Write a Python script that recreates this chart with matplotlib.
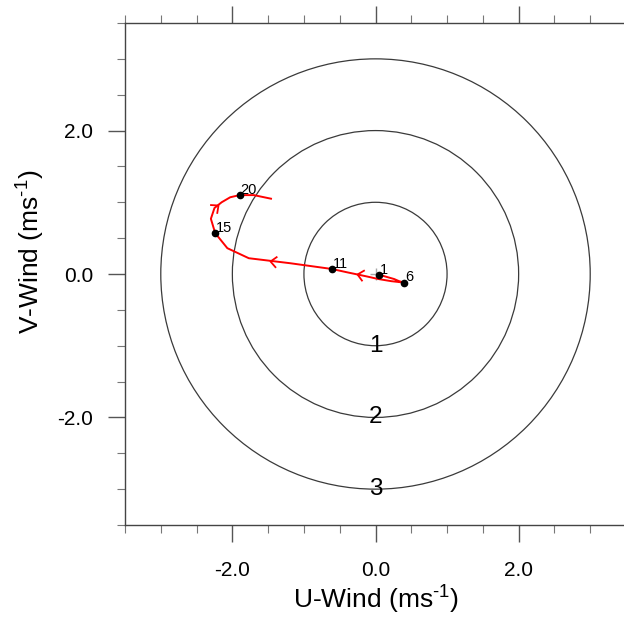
import numpy as np
import matplotlib
matplotlib.use('Agg')
import matplotlib.pyplot as plt
from matplotlib.path import Path
from matplotlib.markers import MarkerStyle
from matplotlib.transforms import Affine2D
from matplotlib.patches import Circle
from matplotlib.ticker import MultipleLocator

plt.rcParams['font.family'] = ['Liberation Sans', 'DejaVu Sans']
plt.rcParams['mathtext.fontset'] = 'custom'
plt.rcParams['mathtext.rm'] = 'Liberation Sans'
plt.rcParams['mathtext.it'] = 'Liberation Sans:italic'

# hodograph data (index 1..22)
u_wind = [0.05, 0.12, 0.19, 0.26, 0.33, 0.40, 0.22, 0.04, -0.14, -0.38, -0.61,
          -1.19, -1.77, -2.07, -2.24, -2.30, -2.25, -2.15, -2.03, -1.90, -1.70, -1.46]
v_wind = [-0.01, -0.03, -0.05, -0.07, -0.10, -0.12, -0.10, -0.07, -0.03, 0.02, 0.07,
          0.15, 0.22, 0.36, 0.57, 0.77, 0.92, 1.00, 1.07, 1.10, 1.10, 1.05]
marked = [1, 6, 11, 15, 20]
arrow_segments = [9, 12, 17]
rings = [1, 2, 3]
ticks = [-2.0, 0.0, 2.0]
tick_labels = ['-2.0', '0.0', '2.0']
limits = (-3.5, 3.5)

W, H = 624, 617
fig = plt.figure(figsize=(W / 100, H / 100), dpi=100)
ax = fig.add_axes([125 / W, 92 / H, 501 / W, 502 / H])
ax.set_xlim(*limits)
ax.set_ylim(*limits)

# rings
for r in rings:
    ax.add_patch(Circle((0, 0), r, fill=False, edgecolor='#3a3a3a', lw=0.9, zorder=1))
    ax.text(0, -r, str(r), ha='center', va='center', fontsize=17.5, color='black', zorder=2)

# origin cross
ax.plot([0], [0], marker='+', color='#a8a8a8', markersize=9, mew=1.0, zorder=2)

u = np.array(u_wind)
v = np.array(v_wind)
ax.plot(u, v, color='red', lw=1.4, zorder=3)

# arrow chevrons
chev = Path([(-1, 0.9), (0, 0), (-1, -0.9)], [Path.MOVETO, Path.LINETO, Path.LINETO])
for s in arrow_segments:
    i = s - 1
    du, dv = u[i + 1] - u[i], v[i + 1] - v[i]
    ang = np.degrees(np.arctan2(dv, du))
    mu, mv = (u[i] + u[i + 1]) / 2, (v[i] + v[i + 1]) / 2
    ms = MarkerStyle(chev, transform=Affine2D().rotate_deg(ang))
    ax.plot([mu], [mv], marker=ms, markersize=9, markerfacecolor='none',
            markeredgecolor='red', mew=1.3, zorder=3)

# marked points
for k in marked:
    ax.plot([u[k - 1]], [v[k - 1]], 'o', color='black', markersize=4.5, zorder=4)
    ax.annotate(str(k), (u[k - 1], v[k - 1]), xytext=(0.5, 0.8), textcoords='offset points',
                ha='left', va='baseline', fontsize=10.5, zorder=5)

# axes styling
for sp in ax.spines.values():
    sp.set_color('#444444')
    sp.set_linewidth(1.0)
ax.set_xticks(ticks)
ax.set_xticklabels(tick_labels)
ax.set_yticks(ticks)
ax.set_yticklabels(tick_labels)
ax.xaxis.set_minor_locator(MultipleLocator(0.5))
ax.yaxis.set_minor_locator(MultipleLocator(0.5))
ax.tick_params(which='major', direction='out', length=12, width=1.0, color='#555555',
               top=True, right=True, labelsize=15, pad=14)
ax.tick_params(axis='y', which='major', pad=11)
ax.tick_params(which='minor', direction='out', length=6, width=0.8, color='#777777',
               top=True, right=True)

fig.text(375.5 / W, (H - 609) / H, r'U-Wind (ms$^{\text{-1}}$)', ha='center',
         va='baseline', fontsize=19)
fig.text(40 / W, (H - 252) / H, r'V-Wind (ms$^{\text{-1}}$)', ha='center',
         va='baseline', rotation=90, rotation_mode='anchor', fontsize=19)

fig.savefig('out.png', dpi=100)
